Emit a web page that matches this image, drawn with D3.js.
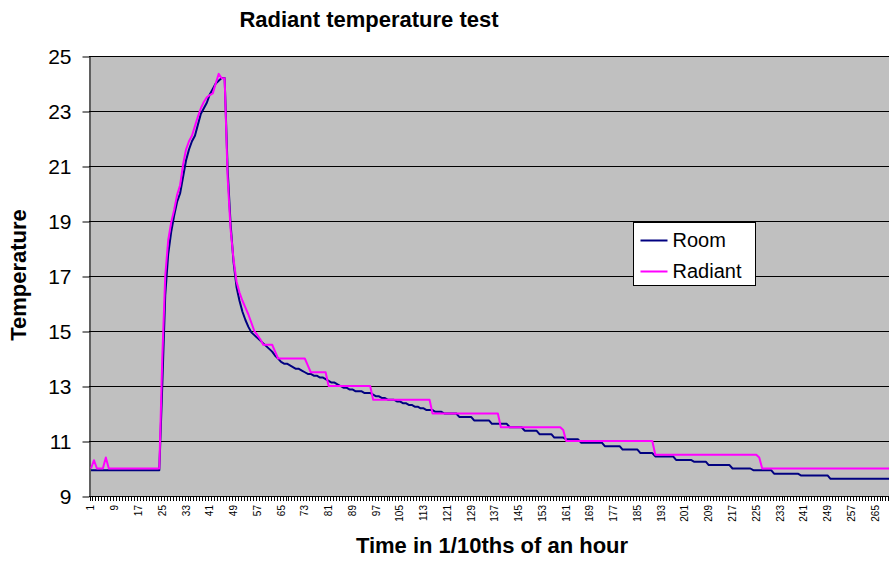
<html>
  <head>
    <title>Radiant temperature test</title>
    <script src="https://d3js.org/d3.v7.min.js"></script>
    <style>
      body { margin: 0; background: #fff; }
      text { font-family: "Liberation Sans", Arial, sans-serif; }
    </style>
  </head>
  <body>
    <div id="wrapper"></div>
    <script>
      // readings, one per 1/10th of an hour
      var room = [
        9.94, 9.94, 9.94, 9.94, 9.94, 9.94, 9.94, 9.94, 9.94, 9.94,
        9.94, 9.94, 9.94, 9.94, 9.94, 9.94, 9.94, 9.94, 9.94, 9.94,
        9.94, 9.94, 9.94, 9.94, 13.0, 16.3, 17.8, 18.6, 19.2, 19.7,
        20.0, 20.6, 21.2, 21.6, 21.9, 22.1, 22.5, 22.9, 23.1, 23.3,
        23.6, 23.8, 24.0, 24.1, 24.2, 24.2, 20.9, 18.9, 17.5, 16.6,
        16.1, 15.7, 15.4, 15.15, 14.95, 14.85, 14.75, 14.65, 14.55, 14.45,
        14.35, 14.25, 14.1, 14.0, 13.875, 13.8125, 13.8125, 13.75, 13.6875, 13.625,
        13.625, 13.5625, 13.5, 13.4375, 13.4375, 13.375, 13.375, 13.3125, 13.3125, 13.25,
        13.1875, 13.125, 13.125, 13.0625, 13.0, 12.9375, 12.9375, 12.875, 12.875, 12.8125,
        12.8125, 12.8125, 12.75, 12.75, 12.75, 12.6875, 12.625, 12.625, 12.5625, 12.5625,
        12.5, 12.5, 12.5, 12.4375, 12.4375, 12.375, 12.375, 12.3125, 12.3125, 12.25,
        12.25, 12.1875, 12.1875, 12.125, 12.125, 12.125, 12.0625, 12.0625, 12.0625, 12.0,
        12.0, 12.0, 12.0, 12.0, 11.875, 11.875, 11.875, 11.875, 11.875, 11.75,
        11.75, 11.75, 11.75, 11.75, 11.75, 11.625, 11.625, 11.625, 11.625, 11.625,
        11.625, 11.5, 11.5, 11.5, 11.5, 11.5, 11.375, 11.375, 11.375, 11.375,
        11.375, 11.25, 11.25, 11.25, 11.25, 11.25, 11.125, 11.125, 11.125, 11.125,
        11.0625, 11.0625, 11.0625, 11.0625, 11.0625, 10.9375, 10.9375, 10.9375, 10.9375, 10.9375,
        10.9375, 10.9375, 10.9375, 10.8125, 10.8125, 10.8125, 10.8125, 10.8125, 10.8125, 10.6875,
        10.6875, 10.6875, 10.6875, 10.6875, 10.6875, 10.5625, 10.5625, 10.5625, 10.5625, 10.5625,
        10.4375, 10.4375, 10.4375, 10.4375, 10.4375, 10.4375, 10.4375, 10.3125, 10.3125, 10.3125,
        10.3125, 10.3125, 10.3125, 10.25, 10.25, 10.25, 10.25, 10.25, 10.125, 10.125,
        10.125, 10.125, 10.125, 10.125, 10.125, 10.125, 10.0, 10.0, 10.0, 10.0,
        10.0, 10.0, 10.0, 9.9375, 9.9375, 9.9375, 9.9375, 9.9375, 9.9375, 9.9375,
        9.8125, 9.8125, 9.8125, 9.8125, 9.8125, 9.8125, 9.8125, 9.8125, 9.8125, 9.75,
        9.75, 9.75, 9.75, 9.75, 9.75, 9.75, 9.75, 9.75, 9.75, 9.625,
        9.625, 9.625, 9.625, 9.625, 9.625, 9.625, 9.625, 9.625, 9.625, 9.625,
        9.625, 9.625, 9.625, 9.625, 9.625, 9.625, 9.625, 9.625, 9.625, 9.625,
        9.625, 9.625
      ];
      var radiant = [
        10.0, 10.3, 10.0, 10.0, 10.0, 10.4, 10.0, 10.0, 10.0, 10.0,
        10.0, 10.0, 10.0, 10.0, 10.0, 10.0, 10.0, 10.0, 10.0, 10.0,
        10.0, 10.0, 10.0, 10.0, 14.0, 17.0, 18.3, 18.95, 19.4, 19.95,
        20.3, 21.05, 21.6, 21.9, 22.1, 22.45, 22.8, 23.1, 23.33, 23.5,
        23.58, 23.64, 24.0, 24.35, 24.19, 24.19, 20.6, 18.7, 17.6, 16.8,
        16.4, 16.1, 15.85, 15.6, 15.3, 15.0, 14.85, 14.7, 14.5, 14.5,
        14.5, 14.5, 14.25, 14.0, 14.0, 14.0, 14.0, 14.0, 14.0, 14.0,
        14.0, 14.0, 14.0, 13.75, 13.5, 13.5, 13.5, 13.5, 13.5, 13.5,
        13.0, 13.0, 13.0, 13.0, 13.0, 13.0, 13.0, 13.0, 13.0, 13.0,
        13.0, 13.0, 13.0, 13.0, 13.0, 12.5, 12.5, 12.5, 12.5, 12.5,
        12.5, 12.5, 12.5, 12.5, 12.5, 12.5, 12.5, 12.5, 12.5, 12.5,
        12.5, 12.5, 12.5, 12.5, 12.5, 12.0, 12.0, 12.0, 12.0, 12.0,
        12.0, 12.0, 12.0, 12.0, 12.0, 12.0, 12.0, 12.0, 12.0, 12.0,
        12.0, 12.0, 12.0, 12.0, 12.0, 12.0, 12.0, 12.0, 11.5, 11.5,
        11.5, 11.5, 11.5, 11.5, 11.5, 11.5, 11.5, 11.5, 11.5, 11.5,
        11.5, 11.5, 11.5, 11.5, 11.5, 11.5, 11.5, 11.5, 11.5, 11.4,
        11.0, 11.0, 11.0, 11.0, 11.0, 11.0, 11.0, 11.0, 11.0, 11.0,
        11.0, 11.0, 11.0, 11.0, 11.0, 11.0, 11.0, 11.0, 11.0, 11.0,
        11.0, 11.0, 11.0, 11.0, 11.0, 11.0, 11.0, 11.0, 11.0, 11.0,
        10.5, 10.5, 10.5, 10.5, 10.5, 10.5, 10.5, 10.5, 10.5, 10.5,
        10.5, 10.5, 10.5, 10.5, 10.5, 10.5, 10.5, 10.5, 10.5, 10.5,
        10.5, 10.5, 10.5, 10.5, 10.5, 10.5, 10.5, 10.5, 10.5, 10.5,
        10.5, 10.5, 10.5, 10.5, 10.5, 10.4, 10.0, 10.0, 10.0, 10.0,
        10.0, 10.0, 10.0, 10.0, 10.0, 10.0, 10.0, 10.0, 10.0, 10.0,
        10.0, 10.0, 10.0, 10.0, 10.0, 10.0, 10.0, 10.0, 10.0, 10.0,
        10.0, 10.0, 10.0, 10.0, 10.0, 10.0, 10.0, 10.0, 10.0, 10.0,
        10.0, 10.0, 10.0, 10.0, 10.0, 10.0, 10.0, 10.0, 10.0, 10.0,
        10.0, 10.0
      ];
      var yTicks = [9, 11, 13, 15, 17, 19, 21, 23, 25];
      var seriesNames = ["Room", "Radiant"];
      var seriesColors = ["#000080", "#ff00ff"];

      var categories = room.map(function(d, i) { return i + 1; });
      var xLabels = categories.filter(function(c) { return (c - 1) % 8 == 0; });

      // plot box (right side runs past the window, like the cropped original)
      var plotLeft = 89, plotTop = 56, plotBottom = 496;
      var step = 2.97;
      var plotRight = plotLeft + 0.5 + categories.length * step;

      var svg = d3.select("#wrapper").append("svg")
        .attr("width", 889)
        .attr("height", 561);

      var xScale = d3.scaleBand().domain(categories).range([plotLeft + 0.5, plotRight]).padding(0);
      var yScale = d3.scaleLinear().domain([9, 25]).range([plotBottom, plotTop]);
      function cx(c) { return xScale(c) + xScale.bandwidth() / 2; }

      svg.append("rect")
        .attr("x", plotLeft).attr("y", plotTop)
        .attr("width", plotRight - plotLeft).attr("height", plotBottom - plotTop)
        .attr("fill", "#c0c0c0");

      // gridlines
      svg.selectAll(".grid").data(yTicks.slice(1)).enter().append("line")
        .attr("x1", plotLeft).attr("x2", plotRight)
        .attr("y1", function(d) { return Math.round(yScale(d)) + 0.5; })
        .attr("y2", function(d) { return Math.round(yScale(d)) + 0.5; })
        .attr("stroke", "#000").attr("stroke-width", 1);

      // y axis
      var yAxis = d3.axisLeft(yScale).tickValues(yTicks).tickSize(7).tickSizeOuter(0).tickPadding(11);
      svg.append("g")
        .attr("transform", "translate(" + (plotLeft + 0.5) + ",0.5)")
        .call(yAxis)
        .call(function(g) {
          g.selectAll("text").style("font-size", "21px").attr("fill", "#000");
          g.selectAll("line, path").attr("stroke", "#000");
        });

      // x axis: small ticks between every category, labels every 8th
      svg.append("line")
        .attr("x1", plotLeft).attr("x2", plotRight)
        .attr("y1", plotBottom + 0.5).attr("y2", plotBottom + 0.5)
        .attr("stroke", "#000");
      svg.selectAll(".xtick").data(categories).enter().append("line")
        .attr("x1", function(d) { return Math.round(xScale(d)) + 0.5; })
        .attr("x2", function(d) { return Math.round(xScale(d)) + 0.5; })
        .attr("y1", plotBottom).attr("y2", plotBottom + 5)
        .attr("stroke", "#000");

      var xAxis = d3.axisBottom(xScale).tickValues(xLabels).tickSize(0).tickSizeOuter(0);
      svg.append("g")
        .attr("transform", "translate(0," + plotBottom + ")")
        .call(xAxis)
        .call(function(g) {
          g.select(".domain").remove();
          g.selectAll("text")
            .attr("transform", "rotate(-90)")
            .attr("x", -9).attr("y", 0).attr("dy", "0.35em")
            .style("text-anchor", "end")
            .style("font-size", "10px")
            .attr("fill", "#000");
        });

      // series
      var line = d3.line()
        .x(function(d, i) { return cx(categories[i]); })
        .y(function(d) { return yScale(d); });
      [room, radiant].forEach(function(s, k) {
        svg.append("path")
          .attr("d", line(s))
          .attr("fill", "none")
          .attr("stroke", seriesColors[k])
          .attr("stroke-width", 2)
          .attr("stroke-linejoin", "round");
      });

      // titles
      svg.append("text")
        .attr("x", 369).attr("y", 27)
        .style("text-anchor", "middle").style("font-size", "22px").style("font-weight", "bold")
        .text("Radiant temperature test");
      svg.append("text")
        .attr("x", 492).attr("y", 553)
        .style("text-anchor", "middle").style("font-size", "22px").style("font-weight", "bold")
        .text("Time in 1/10ths of an hour");
      svg.append("text")
        .attr("transform", "translate(26,275) rotate(-90)")
        .style("text-anchor", "middle").style("font-size", "22px").style("font-weight", "bold")
        .text("Temperature");

      // legend
      var legend = svg.append("g").attr("transform", "translate(633.5,222.5)");
      legend.append("rect")
        .attr("width", 122).attr("height", 63)
        .attr("fill", "#fff").attr("stroke", "#000");
      seriesNames.forEach(function(name, k) {
        legend.append("line")
          .attr("x1", 7).attr("x2", 34)
          .attr("y1", 18 + k * 31).attr("y2", 18 + k * 31)
          .attr("stroke", seriesColors[k]).attr("stroke-width", 2);
        legend.append("text")
          .attr("x", 39).attr("y", 24.5 + k * 31)
          .style("font-size", "20px")
          .text(name);
      });
    </script>
  </body>
</html>
